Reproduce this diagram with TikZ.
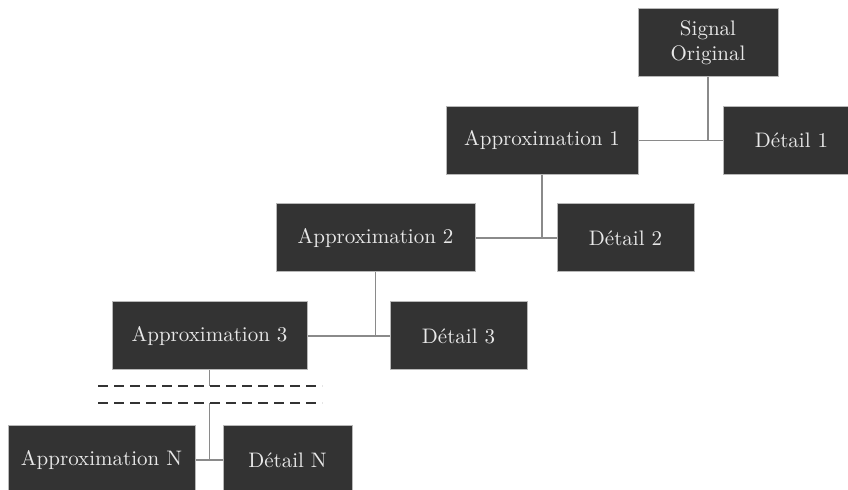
\documentclass[tikz,border=0pt]{standalone}
\usepackage{tikz}
\usetikzlibrary{positioning}

\definecolor{boxfill}{HTML}{333333}
\definecolor{boxline}{HTML}{B8B8B8}
\definecolor{boxtext}{HTML}{E8E8E8}
\definecolor{linkgray}{HTML}{8A8A8A}

\tikzset{
	block/.style={draw=boxline, line width=0.5pt, fill=boxfill, text=boxtext,
		font=\fontsize{10.5}{12.5}\selectfont, align=center,
		minimum height=34pt, inner sep=0pt},
	link/.style={draw=linkgray, line width=0.8pt},
	cut/.style={draw=boxfill, line width=1pt, dash pattern=on 5pt off 3pt}
}

\begin{document}
\begin{tikzpicture}[x=0.5pt, y=-0.5pt]

	\useasboundingbox (0,0) rectangle (848,490);

	% node definitions
	\node[block, minimum width=70pt]   (sig) at   (708,43) {Signal\\Original};
	\node[block, minimum width=96pt]  (app1) at (542,140.5) {Approximation 1};
	\node[block, minimum width=68.5pt] (det1) at (791.5,140.5) {Détail 1};
	\node[block, minimum width=99.5pt] (app2) at (375.5,238) {Approximation 2};
	\node[block, minimum width=68.5pt] (det2) at (625.5,238) {Détail 2};
	\node[block, minimum width=97.5pt] (app3) at (209.5,336) {Approximation 3};
	\node[block, minimum width=68.5pt] (det3) at (458.5,336) {Détail 3};
	\node[block, minimum width=93.5pt] (appN) at (101.5,460) {Approximation N};
	\node[block, minimum width=64.5pt] (detN) at (287.5,460) {Détail N};

	% cut in the cascade
	\coordinate (cut1a) at  (98,386);
	\coordinate (cut1b) at (322,386);
	\coordinate (cut2a) at  (98,403);
	\coordinate (cut2b) at (322,403);
	\coordinate (cut2m) at (app3.south |- cut2a);

	% links
	\draw[link]  (sig.south) -- (sig.south |- app1.east);
	\draw[link]  (app1.east) -- (det1.west);
	\draw[link] (app1.south) -- (app1.south |- app2.east);
	\draw[link]  (app2.east) -- (det2.west);
	\draw[link] (app2.south) -- (app2.south |- app3.east);
	\draw[link]  (app3.east) -- (det3.west);
	\draw[link] (app3.south) -- (app3.south |- cut1a);
	\draw[link]      (cut2m) -- (cut2m |- appN.east);
	\draw[link]  (appN.east) -- (detN.west);

	% dashed break
	\draw[cut] (cut1a) -- (cut1b);
	\draw[cut] (cut2a) -- (cut2b);

\end{tikzpicture}
\end{document}
